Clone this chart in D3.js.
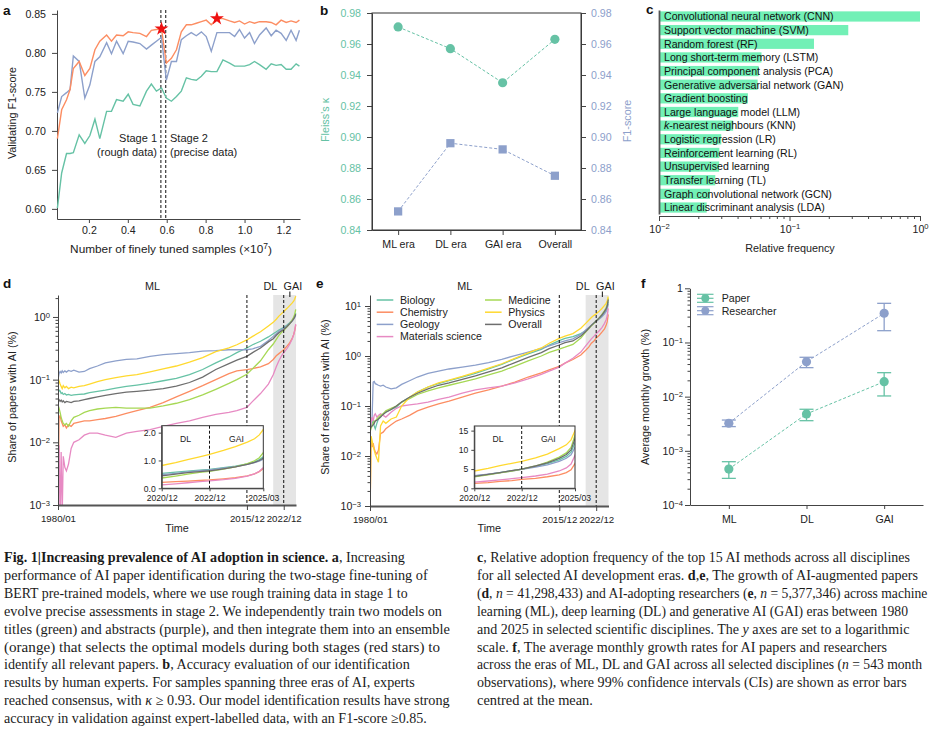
<!DOCTYPE html>
<html>
<head>
<meta charset="utf-8">
<title>Fig. 1</title>
<script src="https://cdn.jsdelivr.net/npm/d3@7/dist/d3.min.js"></script>
<style>
  html, body { margin: 0; padding: 0; background: #fff; }
  #figure svg { display: block; }
</style>
</head>
<body>
<div id="figure"></div>
<script>
// ---------- a: validating F1-score during two-stage fine-tuning (x in 10^7 samples)
const tunedSamples = [0.038, 0.060, 0.085, 0.103, 0.120, 0.150, 0.179, 0.205, 0.231, 0.256, 0.291,
  0.316, 0.342, 0.376, 0.402, 0.427, 0.462, 0.496, 0.521, 0.547, 0.573,
  0.598, 0.624, 0.650, 0.675, 0.701, 0.726, 0.752, 0.778, 0.803, 0.829, 0.858, 0.889, 0.923, 0.949,
  0.974, 1.000, 1.026, 1.051, 1.077, 1.111, 1.137, 1.162, 1.188, 1.214, 1.239, 1.265, 1.282];
const titleF1 = [0.601, 0.646, 0.671, 0.671, 0.672, 0.695, 0.684, 0.694, 0.715, 0.690, 0.725,
  0.725, 0.740, 0.738, 0.747, 0.734, 0.732, 0.751, 0.760, 0.751, 0.755,
  0.742, 0.738, 0.744, 0.751, 0.768, 0.766, 0.765, 0.770, 0.777, 0.776, 0.776, 0.791, 0.787, 0.783,
  0.783, 0.783, 0.785, 0.789, 0.785, 0.779, 0.786, 0.784, 0.785, 0.779, 0.779, 0.786, 0.783];
const abstractF1 = [0.723, 0.744, 0.749, 0.753, 0.796, 0.789, 0.742, 0.759, 0.789, 0.795, 0.813,
  0.799, 0.815, 0.799, 0.815, 0.814, 0.812, 0.805, 0.810, 0.815, 0.820,
  0.765, 0.789, 0.789, 0.817, 0.822, 0.826, 0.822, 0.827, 0.821, 0.802, 0.826, 0.826, 0.826, 0.821,
  0.830, 0.819, 0.826, 0.812, 0.823, 0.832, 0.822, 0.829, 0.825, 0.816, 0.829, 0.816, 0.829];
const ensembleF1 = [0.690, 0.727, 0.740, 0.753, 0.780, 0.789, 0.771, 0.780, 0.804, 0.815, 0.823,
  0.815, 0.823, 0.822, 0.827, 0.826, 0.825, 0.821, 0.829, 0.830, 0.831,
  0.787, 0.793, 0.804, 0.827, 0.836, 0.836, 0.838, 0.840, 0.842, 0.836, 0.844, 0.844, 0.841, 0.839,
  0.841, 0.837, 0.840, 0.838, 0.840, 0.840, 0.839, 0.836, 0.842, 0.839, 0.841, 0.839, 0.842];
const stageBreaks = [0.57, 0.595];
const optimalModels = [20, 31];   // indices of the red stars in ensembleF1
const aTicksX = [0.2, 0.4, 0.6, 0.8, 1.0, 1.2];
const aTicksY = [0.60, 0.65, 0.70, 0.75, 0.80, 0.85];

// ---------- b: expert evaluation
const evalEras = ['ML era', 'DL era', 'GAI era', 'Overall'];
const fleissKappa = [0.971, 0.957, 0.935, 0.963];
const evalF1 = [0.852, 0.896, 0.892, 0.875];
const bTicks = [0.84, 0.86, 0.88, 0.90, 0.92, 0.94, 0.96, 0.98];

// ---------- c: top 15 methods
const methods = ['Convolutional neural network (CNN)', 'Support vector machine (SVM)', 'Random forest (RF)',
  'Long short-term memory (LSTM)', 'Principal component analysis (PCA)', 'Generative adversarial network (GAN)',
  'Gradient boosting', 'Large language model (LLM)', 'k-nearest neighbours (KNN)', 'Logistic regression (LR)',
  'Reinforcement learning (RL)', 'Unsupervised learning', 'Transfer learning (TL)',
  'Graph convolutional network (GCN)', 'Linear discriminant analysis (LDA)'];
const methodFreq = [1.0, 0.282, 0.154, 0.061, 0.058, 0.057, 0.048, 0.0405, 0.037, 0.030, 0.029, 0.0289, 0.027, 0.0246, 0.0232];

// ---------- d, e: share of AI papers / researchers (%), sampled in decimal years
const timeYears = [1980.0, 1980.2, 1980.4, 1980.6, 1980.8, 1981.0, 1981.3, 1981.6, 1982.0, 1982.5,
  1983, 1984, 1985, 1986, 1987.5, 1989, 1991, 1993, 1995, 1997.5,
  2000, 2002.5, 2005, 2007.5, 2010, 2012.5, 2014, 2015.9, 2017, 2018.5,
  2020, 2020.92, 2021.5, 2022, 2022.5, 2022.92, 2023.5, 2024, 2024.5, 2024.8, 2025.0, 2025.2];
const disciplines = ['Biology', 'Chemistry', 'Geology', 'Materials science', 'Medicine', 'Physics', 'Overall'];

const papersBiology = [0.06, 0.068, 0.066, 0.060, 0.062, 0.058, 0.06, 0.057, 0.058, 0.056,
  0.057, 0.058, 0.059, 0.062, 0.065, 0.068, 0.073, 0.078, 0.082, 0.088,
  0.096, 0.105, 0.12, 0.145, 0.185, 0.23, 0.27, 0.32, 0.36, 0.41,
  0.48, 0.54, 0.58, 0.62, 0.65, 0.68, 0.74, 0.80, 0.88, 0.95, 1.03, 1.15];
const papersChemistry = [0.0008, 0.024, 0.027, 0.022, 0.02, 0.018, 0.019, 0.017, 0.019, 0.018,
  0.02, 0.021, 0.022, 0.022, 0.023, 0.024, 0.026, 0.029, 0.032, 0.036,
  0.043, 0.053, 0.065, 0.08, 0.1, 0.125, 0.138, 0.145, 0.15, 0.16,
  0.18, 0.21, 0.24, 0.26, 0.28, 0.30, 0.34, 0.38, 0.45, 0.52, 0.60, 0.74];
const papersGeology = [0.10, 0.125, 0.135, 0.128, 0.138, 0.13, 0.138, 0.132, 0.14, 0.136,
  0.142, 0.132, 0.135, 0.15, 0.165, 0.185, 0.2, 0.21, 0.215, 0.235,
  0.25, 0.26, 0.27, 0.285, 0.29, 0.30, 0.30, 0.30, 0.31, 0.34,
  0.42, 0.49, 0.54, 0.59, 0.63, 0.66, 0.72, 0.78, 0.86, 0.92, 0.98, 1.06];
const papersMaterials = [0.0005, 0.009, 0.0006, 0.007, 0.0007, 0.006, 0.004, 0.0035, 0.0045, 0.008,
  0.01, 0.011, 0.013, 0.014, 0.014, 0.013, 0.012, 0.014, 0.015, 0.016,
  0.018, 0.02, 0.022, 0.025, 0.028, 0.03, 0.032, 0.036, 0.045, 0.06,
  0.085, 0.12, 0.16, 0.20, 0.24, 0.27, 0.31, 0.36, 0.44, 0.52, 0.61, 0.77];
const papersMedicine = [0.032, 0.035, 0.03, 0.025, 0.022, 0.02, 0.019, 0.02, 0.018, 0.022,
  0.025, 0.027, 0.03, 0.032, 0.034, 0.035, 0.036, 0.035, 0.035, 0.035,
  0.038, 0.042, 0.048, 0.057, 0.07, 0.087, 0.10, 0.122, 0.15, 0.2,
  0.30, 0.37, 0.44, 0.51, 0.57, 0.61, 0.69, 0.77, 0.89, 0.99, 1.10, 1.32];
const papersPhysics = [0.105, 0.095, 0.085, 0.078, 0.072, 0.08, 0.074, 0.078, 0.072, 0.076,
  0.074, 0.078, 0.08, 0.085, 0.093, 0.10, 0.108, 0.115, 0.12, 0.133,
  0.148, 0.165, 0.19, 0.225, 0.28, 0.32, 0.36, 0.43, 0.49, 0.58,
  0.72, 0.82, 0.92, 1.03, 1.13, 1.22, 1.36, 1.50, 1.66, 1.78, 1.92, 2.15];
const papersOverall = [0.05, 0.048, 0.045, 0.047, 0.044, 0.046, 0.043, 0.045, 0.044, 0.043,
  0.045, 0.046, 0.048, 0.05, 0.053, 0.056, 0.06, 0.063, 0.065, 0.068,
  0.072, 0.079, 0.09, 0.11, 0.145, 0.18, 0.205, 0.235, 0.27, 0.32,
  0.40, 0.45, 0.51, 0.56, 0.60, 0.63, 0.70, 0.77, 0.86, 0.93, 1.00, 1.10];

const researchersBiology = [0.035, 0.04, 0.045, 0.05, 0.04, 0.035, 0.045, 0.055, 0.06, 0.07,
  0.075, 0.085, 0.095, 0.12, 0.15, 0.19, 0.24, 0.28, 0.32, 0.38,
  0.45, 0.55, 0.68, 0.88, 1.1, 1.36, 1.65, 2.03, 2.25, 2.44,
  2.8, 3.2, 3.6, 4.1, 4.6, 5.0, 5.7, 6.4, 7.4, 8.3, 9.4, 12.3];
const researchersChemistry = [0.0005, 0.02, 0.015, 0.018, 0.014, 0.012, 0.011, 0.013, 0.028, 0.03,
  0.035, 0.042, 0.05, 0.055, 0.065, 0.08, 0.095, 0.11, 0.125, 0.15,
  0.18, 0.21, 0.25, 0.3, 0.38, 0.46, 0.53, 0.62, 0.72, 0.85,
  1.05, 1.3, 1.5, 1.8, 2.0, 2.3, 2.6, 3.0, 3.5, 4.1, 4.8, 6.8];
const researchersGeology = [0.045, 0.05, 0.06, 0.3, 0.31, 0.28, 0.27, 0.26, 0.25, 0.26,
  0.24, 0.22, 0.23, 0.27, 0.32, 0.38, 0.45, 0.50, 0.55, 0.60,
  0.66, 0.74, 0.86, 1.02, 1.2, 1.42, 1.6, 1.85, 2.0, 2.2,
  2.7, 3.3, 3.7, 4.1, 4.5, 4.9, 5.5, 6.1, 7.0, 7.8, 8.7, 11.0];
const researchersMaterials = [0.03, 0.045, 0.06, 0.05, 0.065, 0.07, 0.06, 0.065, 0.07, 0.065,
  0.06, 0.075, 0.09, 0.1, 0.105, 0.11, 0.12, 0.135, 0.15, 0.18,
  0.21, 0.23, 0.25, 0.29, 0.35, 0.43, 0.5, 0.6, 0.72, 0.9,
  1.2, 1.6, 1.9, 2.2, 2.5, 2.8, 3.2, 3.7, 4.5, 5.3, 6.3, 9.0];
const researchersMedicine = [0.04, 0.035, 0.04, 0.045, 0.05, 0.05, 0.055, 0.06, 0.065, 0.07,
  0.08, 0.09, 0.1, 0.12, 0.14, 0.17, 0.2, 0.23, 0.26, 0.3,
  0.35, 0.42, 0.5, 0.63, 0.8, 1.0, 1.18, 1.38, 1.5, 1.7,
  2.3, 3.0, 3.5, 4.0, 4.5, 5.0, 5.8, 6.8, 8.1, 9.2, 10.6, 14.5];
const researchersPhysics = [0.0005, 0.025, 0.02, 0.016, 0.013, 0.011, 0.009, 0.0075, 0.04, 0.05,
  0.045, 0.055, 0.06, 0.1, 0.15, 0.19, 0.24, 0.29, 0.33, 0.39,
  0.47, 0.57, 0.7, 0.9, 1.15, 1.45, 1.8, 2.26, 2.5, 2.8,
  3.6, 4.5, 5.2, 5.9, 6.5, 7.0, 7.9, 8.9, 10.3, 11.3, 12.6, 15.5];
const researchersOverall = [0.035, 0.038, 0.04, 0.042, 0.045, 0.05, 0.052, 0.055, 0.06, 0.068,
  0.075, 0.085, 0.1, 0.12, 0.15, 0.18, 0.22, 0.26, 0.29, 0.34,
  0.4, 0.48, 0.58, 0.74, 0.94, 1.17, 1.4, 1.66, 1.85, 2.0,
  2.5, 3.1, 3.6, 4.1, 4.6, 5.0, 5.8, 6.6, 7.8, 8.8, 10.0, 13.5];

const timeTicks = ['1980/01', '2015/12', '2022/12'];   // also the starts of the ML, DL and GAI eras
const eraNames = ['ML', 'DL', 'GAI'];
const insetTicks = ['2020/12', '2022/12', '2025/03'];

// ---------- f: average monthly growth (%) with 99% CI
const growthEras = ['ML', 'DL', 'GAI'];
const paperGrowth = [4.6e-4, 4.8e-3, 0.0189];
const paperLow = [3.1e-4, 3.6e-3, 0.0103];
const paperHigh = [6.3e-4, 5.85e-3, 0.0277];
const researcherGrowth = [3.23e-3, 0.0443, 0.346];
const researcherLow = [2.8e-3, 0.0343, 0.165];
const researcherHigh = [3.7e-3, 0.0533, 0.528];

// ---------- caption
const captionLeft = [
  [['Fig. 1|Increasing prevalence of AI adoption in science. a', 'b'], [', Increasing']],
  [['performance of AI paper identification during the two-stage fine-tuning of']],
  [['BERT pre-trained models, where we use rough training data in stage 1 to']],
  [['evolve precise assessments in stage 2. We independently train two models on']],
  [['titles (green) and abstracts (purple), and then integrate them into an ensemble']],
  [['(orange) that selects the optimal models during both stages (red stars) to']],
  [['identify all relevant papers. '], ['b', 'b'], [', Accuracy evaluation of our identification']],
  [['results by human experts. For samples spanning three eras of AI, experts']],
  [['reached consensus, with '], ['\u03ba', 'i'], [' \u2265 0.93. Our model identification results have strong']],
  [['accuracy in validation against expert-labelled data, with an F1-score \u22650.85.']]
];
const captionRight = [
  [['c', 'b'], [', Relative adoption frequency of the top 15 AI methods across all disciplines']],
  [['for all selected AI development eras. '], ['d', 'b'], [','], ['e', 'b'], [', The growth of AI-augmented papers']],
  [['('], ['d', 'b'], [', '], ['n', 'i'], [' = 41,298,433) and AI-adopting researchers ('], ['e', 'b'], [', '], ['n', 'i'], [' = 5,377,346) across machine']],
  [['learning (ML), deep learning (DL) and generative AI (GAI) eras between 1980']],
  [['and 2025 in selected scientific disciplines. The '], ['y', 'i'], [' axes are set to a logarithmic']],
  [['scale. '], ['f', 'b'], [', The average monthly growth rates for AI papers and researchers']],
  [['across the eras of ML, DL and GAI across all selected disciplines ('], ['n', 'i'], [' = 543 month']],
  [['observations), where 99% confidence intervals (CIs) are shown as error bars']],
  [['centred at the mean.']]
];

const FONT = '"Liberation Sans", Arial, sans-serif';
const SERIF = '"Liberation Serif", "DejaVu Serif", serif';
const INK = '#222';
const C = {
  green: '#66c2a5', orange: '#fc8d62', purple: '#8da0cb', star: '#ee1111', bar: '#72f0b6'
};
const disciplineColors = ['#66c2a5', '#fc8d62', '#8da0cb', '#e78ac3', '#a6d854', '#ffd92f', '#6e6e6e'];

const ym = s => { const [yy, mm] = s.split('/').map(Number); return yy + (mm - 1) / 12; };

function styleAxis(g, opts = {}) {
  g.attr('font-family', FONT).attr('font-size', opts.size || 10.6);
  g.select('.domain').attr('stroke', opts.domain || '#444').attr('stroke-width', opts.domainWidth || 1);
  g.selectAll('.tick line').attr('stroke', '#444');
  g.selectAll('.tick text').attr('fill', opts.color || INK);
}

function logMajors(domain) {
  const out = [];
  for (let e = Math.ceil(Math.log10(domain[0]) - 1e-9); Math.pow(10, e) <= domain[1] * 1.0001; e++) out.push(Math.pow(10, e));
  return out;
}

function logMinors(domain) {
  const out = [];
  for (let e = Math.floor(Math.log10(domain[0])); e <= Math.ceil(Math.log10(domain[1])); e++) {
    for (let m = 2; m <= 9; m++) {
      const v = m * Math.pow(10, e);
      if (v > domain[0] && v < domain[1]) out.push(v);
    }
  }
  return out;
}

// replace tick text with 10^k
function powerLabels(axisG, plainOne) {
  axisG.selectAll('.tick text').each(function (d) {
    const e = Math.round(Math.log10(d));
    const t = d3.select(this).text(null);
    if (plainOne && e === 0) { t.text('1'); return; }
    t.append('tspan').text('10');
    t.append('tspan').attr('dy', '-0.42em').attr('font-size', '0.72em')
      .text(e < 0 ? '\u2212' + (-e) : String(e));
  });
}

class FigureOne {
  constructor() {
    this.width = 949;
    this.height = 749;
    this.svg = null;
  }

  initialize() {
    this.svg = d3.select('#figure').append('svg')
      .attr('width', this.width)
      .attr('height', this.height)
      .attr('font-family', FONT);
    this.svg.append('rect').attr('width', this.width).attr('height', this.height).attr('fill', '#fff');

    this.drawPanelA();
    this.drawPanelB();
    this.drawPanelC();
    this.drawTimePanel({
      letter: 'd', labelX: 3,
      series: [papersBiology, papersChemistry, papersGeology, papersMaterials, papersMedicine, papersPhysics, papersOverall],
      xRange: [58, 296], yRange: [505, 295], yDomain: [1e-3, 2.24], yPad: 3,
      yTitle: 'Share of papers with AI (%)', yTitleX: 15.5,
      inset: { xRange: [161.7, 263.3], yRange: [488.3, 425.7], yDomain: [0, 2.25], yTicks: [0, 1, 2] },
      legend: false
    });
    this.drawTimePanel({
      letter: 'e', labelX: 316,
      series: [researchersBiology, researchersChemistry, researchersGeology, researchersMaterials,
        researchersMedicine, researchersPhysics, researchersOverall],
      xRange: [370, 608.5], yRange: [506, 295], yDomain: [1e-3, 16.6], yPad: 4,
      yTitle: 'Share of researchers with AI (%)', yTitleX: 329,
      inset: { xRange: [474.3, 575], yRange: [488.3, 426], yDomain: [0, 16.2], yTicks: [0, 5, 10, 15] },
      legend: true
    });
    this.drawPanelF();
    this.drawCaption(captionLeft, [405, 428, 408, 442, 450, 440, 410, 415, 450, 427], 4);
    this.drawCaption(captionRight, [910, 918, 928, 908, 910, 887, 922, 907, 593], 477);
  }

  panelLabel(letter, x, y) {
    this.svg.append('text')
      .attr('x', x).attr('y', y)
      .attr('font-size', 13.5).attr('font-weight', 'bold').attr('fill', '#111')
      .text(letter);
  }

  axisTitle(g, text, x, y, rotate, color) {
    return g.append('text')
      .attr('transform', `translate(${x},${y})` + (rotate ? ' rotate(-90)' : ''))
      .attr('text-anchor', 'middle')
      .attr('font-size', 10.8)
      .attr('fill', color || INK)
      .text(text);
  }

  drawPanelA() {
    const g = this.svg.append('g');
    const x = d3.scaleLinear().domain([0.036, 1.285]).range([57, 300]);
    const y = d3.scaleLinear().domain([0.587, 0.855]).range([219, 10]);

    g.append('g').attr('transform', 'translate(0,219)')
      .call(d3.axisBottom(x).tickValues(aTicksX).tickFormat(d3.format('.1f')).tickSize(4).tickSizeOuter(0))
      .call(styleAxis);
    g.append('g').attr('transform', 'translate(57,0)')
      .call(d3.axisLeft(y).tickValues(aTicksY).tickFormat(d3.format('.2f')).tickSize(5).tickPadding(6).tickSizeOuter(0))
      .call(styleAxis);

    // stage boundary
    g.selectAll('.stage').data(stageBreaks).join('line')
      .attr('x1', d => x(d)).attr('x2', d => x(d))
      .attr('y1', 10).attr('y2', 219)
      .attr('stroke', '#111').attr('stroke-width', 1).attr('stroke-dasharray', '3,2');

    const line = d3.line().x((d, i) => x(tunedSamples[i])).y(d => y(d));
    [[titleF1, C.green], [abstractF1, C.purple], [ensembleF1, C.orange]].forEach(([vals, color]) => {
      g.append('path').datum(vals)
        .attr('d', line).attr('fill', 'none')
        .attr('stroke', color).attr('stroke-width', 1.4);
    });

    g.selectAll('.star').data(optimalModels).join('path')
      .attr('transform', i => `translate(${x(tunedSamples[i])},${y(ensembleF1[i])})`)
      .attr('d', d3.symbol(d3.symbolStar, 60))
      .attr('fill', C.star);

    const stage = g.append('g').attr('font-size', 11).attr('fill', INK);
    stage.append('text').attr('x', 157).attr('y', 142).attr('text-anchor', 'end').text('Stage 1');
    stage.append('text').attr('x', 157).attr('y', 156).attr('text-anchor', 'end').text('(rough data)');
    stage.append('text').attr('x', 170).attr('y', 142).text('Stage 2');
    stage.append('text').attr('x', 170).attr('y', 156).text('(precise data)');

    this.axisTitle(g, 'Validating F1-score', 16, 113, true);
    const t = this.axisTitle(g, 'Number of finely tuned samples (\u00d710', 171, 253, false).attr('font-size', 11.8);
    t.append('tspan').attr('dy', '-0.42em').attr('font-size', '0.72em').text('7');
    t.append('tspan').attr('dy', '0.42em').text(')');
    this.panelLabel('a', 3, 15);
  }

  drawPanelB() {
    const g = this.svg.append('g');
    const x = d3.scalePoint().domain(evalEras).range([372, 581]).padding(0.5);
    const y = d3.scaleLinear().domain([0.84, 0.98]).range([230, 13]);

    g.append('g').attr('transform', 'translate(0,230)')
      .call(d3.axisBottom(x).tickSize(5).tickPadding(5).tickSizeOuter(0))
      .call(styleAxis);
    g.append('g').attr('transform', 'translate(372,0)')
      .call(d3.axisLeft(y).tickValues(bTicks).tickFormat(d3.format('.2f')).tickSize(5).tickPadding(6).tickSizeOuter(0))
      .call(styleAxis, { color: C.green });
    g.append('g').attr('transform', 'translate(581,0)')
      .call(d3.axisRight(y).tickValues(bTicks).tickFormat(d3.format('.2f')).tickSize(5).tickPadding(5).tickSizeOuter(0))
      .call(styleAxis, { color: C.purple });
    g.append('rect').attr('x', 372).attr('y', 13).attr('width', 209).attr('height', 217)
      .attr('fill', 'none').attr('stroke', '#333');

    const line = d3.line().x((d, i) => x(evalEras[i])).y(d => y(d));
    g.append('path').datum(fleissKappa).attr('d', line)
      .attr('fill', 'none').attr('stroke', C.green).attr('stroke-dasharray', '3,2');
    g.append('path').datum(evalF1).attr('d', line)
      .attr('fill', 'none').attr('stroke', C.purple).attr('stroke-dasharray', '3,2');
    g.selectAll('.kappa').data(fleissKappa).join('circle')
      .attr('cx', (d, i) => x(evalEras[i])).attr('cy', d => y(d)).attr('r', 4.6)
      .attr('fill', C.green);
    g.selectAll('.f1').data(evalF1).join('path')
      .attr('transform', (d, i) => `translate(${x(evalEras[i])},${y(d)})`)
      .attr('d', d3.symbol(d3.symbolSquare, 68))
      .attr('fill', C.purple);

    this.axisTitle(g, 'Fleiss\u2019s \u03ba', 329, 120, true, C.green);
    this.axisTitle(g, 'F1-score', 630.5, 121, true, C.purple);
    this.panelLabel('b', 320, 15);
  }

  drawPanelC() {
    const g = this.svg.append('g');
    const x = d3.scaleLog().domain([0.01, 1]).range([659, 920]);
    const y = d3.scaleBand().domain(methods).range([10, 214]).paddingInner(0.25).paddingOuter(0.1);

    g.selectAll('.bar').data(methodFreq).join('rect')
      .attr('x', x(0.01))
      .attr('y', (d, i) => y(methods[i]))
      .attr('width', d => x(d) - x(0.01))
      .attr('height', y.bandwidth())
      .attr('fill', C.bar);

    g.selectAll('.method').data(methods).join('text')
      .attr('x', 664)
      .attr('y', d => y(d) + y.bandwidth() / 2)
      .attr('dy', '0.36em')
      .attr('font-size', 10.6)
      .attr('fill', '#111')
      .each(function (d) {
        const t = d3.select(this);
        if (d.startsWith('k-')) {
          t.append('tspan').attr('font-style', 'italic').text('k');
          t.append('tspan').text(d.slice(1));
        } else {
          t.text(d);
        }
      });

    g.append('g').attr('transform', 'translate(0,216)')
      .call(d3.axisBottom(x).tickValues(logMajors([0.01, 1])).tickSize(5).tickPadding(4).tickSizeOuter(0))
      .call(styleAxis).call(powerLabels);
    g.append('g').attr('transform', 'translate(0,216)')
      .call(d3.axisBottom(x).tickValues(logMinors([0.01, 1])).tickSize(3).tickFormat(''))
      .call(styleAxis).call(a => a.select('.domain').remove());
    g.append('g').attr('transform', 'translate(659,0)')
      .call(d3.axisLeft(y).tickSize(0).tickFormat('').tickSizeOuter(0))
      .call(styleAxis, { domain: '#555', domainWidth: 1.8 });

    this.axisTitle(g, 'Relative frequency', 790, 252, false);
    this.panelLabel('c', 646, 14);
  }

  drawTimePanel(cfg) {
    const g = this.svg.append('g');
    const [x0, x1] = cfg.xRange;
    const [yBottom, yTop] = cfg.yRange;
    const x = d3.scaleLinear().domain([1980, 2025.25]).range(cfg.xRange);
    const y = d3.scaleLog().domain(cfg.yDomain).range(cfg.yRange);
    const eraX = timeTicks.map(t => x(ym(t)));

    // grey window enlarged in the inset
    const shadeX = x(ym(insetTicks[0]));
    g.append('rect')
      .attr('x', shadeX).attr('y', yTop)
      .attr('width', x1 - shadeX).attr('height', yBottom - yTop)
      .attr('fill', '#e5e5e5');

    const clipId = `clip-${cfg.letter}`;
    g.append('clipPath').attr('id', clipId).append('rect')
      .attr('x', x0).attr('y', yTop - 4)
      .attr('width', x1 - x0 + 1).attr('height', yBottom - yTop + 4);
    const line = d3.line().x((d, i) => x(timeYears[i])).y(d => y(d));
    g.append('g').attr('clip-path', `url(#${clipId})`)
      .selectAll('path').data(cfg.series).join('path')
      .attr('d', line)
      .attr('fill', 'none')
      .attr('stroke', (d, i) => disciplineColors[i])
      .attr('stroke-width', 1.3);

    // era boundaries and names
    g.selectAll('.era').data(eraX.slice(1)).join('line')
      .attr('x1', d => d).attr('x2', d => d)
      .attr('y1', yTop).attr('y2', yBottom)
      .attr('stroke', '#111').attr('stroke-dasharray', '3,2');
    const gaiMid = (eraX[2] + x1) / 2;
    const eraLabelX = [(eraX[0] + eraX[1]) / 2, (eraX[1] + eraX[2]) / 2 + 5, gaiMid + 3];
    g.selectAll('.era-name').data(eraNames).join('text')
      .attr('x', (d, i) => eraLabelX[i]).attr('y', 290)
      .attr('text-anchor', 'middle').attr('font-size', 10.8).attr('fill', INK)
      .text(d => d);
    g.append('line')
      .attr('x1', gaiMid).attr('x2', gaiMid).attr('y1', 291.5).attr('y2', 297)
      .attr('stroke', '#111');

    // axes
    g.append('g').attr('transform', `translate(0,${yBottom})`)
      .call(d3.axisBottom(x).tickValues(timeTicks.map(ym)).tickFormat((d, i) => timeTicks[i])
        .tickSize(5).tickPadding(5).tickSizeOuter(0))
      .call(styleAxis, { domain: '#555', domainWidth: 2, size: 9.7 });
    g.append('g').attr('transform', `translate(${x0},0)`)
      .call(d3.axisLeft(y).tickValues(logMajors(cfg.yDomain)).tickSize(5).tickPadding(cfg.yPad).tickSizeOuter(0))
      .call(styleAxis).call(powerLabels);
    g.append('g').attr('transform', `translate(${x0},0)`)
      .call(d3.axisLeft(y).tickValues(logMinors(cfg.yDomain)).tickSize(2.5).tickFormat(''))
      .call(styleAxis).call(a => a.select('.domain').remove());

    this.axisTitle(g, cfg.yTitle, cfg.yTitleX, 397, true);
    this.axisTitle(g, 'Time', (x0 + x1) / 2, 532, false);

    // inset: linear scale over the last years
    const ins = cfg.inset;
    const [ix0, ix1] = ins.xRange;
    const [iyB, iyT] = ins.yRange;
    const ix = d3.scaleLinear().domain([ym(insetTicks[0]), ym(insetTicks[2])]).range(ins.xRange);
    const iy = d3.scaleLinear().domain(ins.yDomain).range(ins.yRange);
    const ig = g.append('g');
    ig.append('rect').attr('x', ix0).attr('y', iyT).attr('width', ix1 - ix0).attr('height', iyB - iyT)
      .attr('fill', '#fff');
    const insetClip = `clip-inset-${cfg.letter}`;
    ig.append('clipPath').attr('id', insetClip).append('rect')
      .attr('x', ix0).attr('y', iyT).attr('width', ix1 - ix0).attr('height', iyB - iyT);
    const iline = d3.line().x((d, i) => ix(timeYears[i])).y(d => iy(d));
    ig.append('g').attr('clip-path', `url(#${insetClip})`)
      .selectAll('path').data(cfg.series).join('path')
      .attr('d', iline)
      .attr('fill', 'none')
      .attr('stroke', (d, i) => disciplineColors[i])
      .attr('stroke-width', 1.3);
    const gaiStart = ix(ym(timeTicks[2]));
    ig.append('line')
      .attr('x1', gaiStart).attr('x2', gaiStart).attr('y1', iyT).attr('y2', iyB)
      .attr('stroke', '#111').attr('stroke-dasharray', '3,2');
    ig.append('rect').attr('x', ix0).attr('y', iyT).attr('width', ix1 - ix0).attr('height', iyB - iyT)
      .attr('fill', 'none').attr('stroke', '#333');
    [['DL', (ix0 + gaiStart) / 2], ['GAI', (gaiStart + ix1) / 2]].forEach(([name, cx]) => {
      ig.append('text').attr('x', cx).attr('y', iyT + 16)
        .attr('text-anchor', 'middle').attr('font-size', 8.6).attr('fill', INK).text(name);
    });
    ig.append('g').attr('transform', `translate(${ix0},0)`)
      .call(d3.axisLeft(iy).tickValues(ins.yTicks).tickSize(3).tickPadding(3).tickSizeOuter(0))
      .call(styleAxis, { size: 8.6 });
    ig.append('g').attr('transform', `translate(0,${iyB})`)
      .call(d3.axisBottom(ix).tickValues(insetTicks.map(ym)).tickFormat((d, i) => insetTicks[i])
        .tickSize(3).tickPadding(4).tickSizeOuter(0))
      .call(styleAxis, { size: 8.6 });

    if (cfg.legend) {
      const lg = g.append('g').attr('font-size', 10.6).attr('fill', INK);
      disciplines.forEach((name, k) => {
        const col = k < 4 ? 0 : 1;
        const row = k < 4 ? k : k - 4;
        const lx = col === 0 ? 376.7 : 485;
        const ly = 300 + row * 12.2;
        lg.append('line').attr('x1', lx).attr('x2', lx + 16.6).attr('y1', ly).attr('y2', ly)
          .attr('stroke', disciplineColors[k]).attr('stroke-width', 1.5);
        lg.append('text').attr('x', lx + 23.3).attr('y', ly).attr('dy', '0.35em').text(name);
      });
    }

    this.panelLabel(cfg.letter, cfg.labelX, 288);
  }

  drawPanelF() {
    const g = this.svg.append('g');
    const x = d3.scalePoint().domain(growthEras).range([690, 923]).padding(0.5);
    const y = d3.scaleLog().domain([1e-4, 1]).range([505, 288.3]);

    g.append('g').attr('transform', 'translate(0,505)')
      .call(d3.axisBottom(x).tickSize(4).tickPadding(6).tickSizeOuter(0))
      .call(styleAxis);
    g.append('g').attr('transform', 'translate(690,0)')
      .call(d3.axisLeft(y).tickValues(logMajors([1e-4, 1])).tickSize(5).tickPadding(2).tickSizeOuter(0))
      .call(styleAxis).call(a => powerLabels(a, true));
    g.append('g').attr('transform', 'translate(690,0)')
      .call(d3.axisLeft(y).tickValues(logMinors([1e-4, 1])).tickSize(2.5).tickFormat(''))
      .call(styleAxis).call(a => a.select('.domain').remove());

    const groups = [
      { name: 'Paper', mean: paperGrowth, low: paperLow, high: paperHigh, color: C.green },
      { name: 'Researcher', mean: researcherGrowth, low: researcherLow, high: researcherHigh, color: C.purple }
    ];
    const line = d3.line().x((d, i) => x(growthEras[i])).y(d => y(d));
    groups.forEach(s => {
      const sg = g.append('g');
      sg.append('path').datum(s.mean).attr('d', line)
        .attr('fill', 'none').attr('stroke', s.color).attr('stroke-dasharray', '3,2');
      growthEras.forEach((era, i) => {
        const cx = x(era);
        sg.append('line').attr('x1', cx).attr('x2', cx).attr('y1', y(s.low[i])).attr('y2', y(s.high[i]))
          .attr('stroke', s.color).attr('stroke-width', 1.3);
        [s.low[i], s.high[i]].forEach(v => {
          sg.append('line').attr('x1', cx - 7).attr('x2', cx + 7).attr('y1', y(v)).attr('y2', y(v))
            .attr('stroke', s.color).attr('stroke-width', 1.3);
        });
        sg.append('circle').attr('cx', cx).attr('cy', y(s.mean[i])).attr('r', 4.6).attr('fill', s.color);
      });
    });

    // legend
    groups.forEach((s, k) => {
      const ly = 298.3 + k * 12.4;
      const lg = g.append('g');
      [ly - 4, ly + 4].forEach(v => lg.append('line')
        .attr('x1', 697).attr('x2', 713.5).attr('y1', v).attr('y2', v)
        .attr('stroke', s.color).attr('stroke-width', 1.2));
      lg.append('line').attr('x1', 697).attr('x2', 713.5).attr('y1', ly).attr('y2', ly)
        .attr('stroke', s.color).attr('stroke-width', 1.2);
      lg.append('circle').attr('cx', 705.3).attr('cy', ly).attr('r', 4).attr('fill', s.color);
      lg.append('text').attr('x', 721.7).attr('y', ly).attr('dy', '0.36em')
        .attr('font-size', 10.6).attr('fill', INK).text(s.name);
    });

    this.axisTitle(g, 'Average monthly growth (%)', 649, 397, true);
    this.panelLabel('f', 641, 288);
  }

  // each caption line is squeezed horizontally to the width it has in the print
  drawCaption(lines, ends, x0) {
    const g = this.svg.append('g')
      .attr('font-family', SERIF).attr('font-size', 13.8).attr('fill', '#1b1b1b');
    lines.forEach((segs, i) => {
      const t = g.append('text').attr('x', 0).attr('y', 0);
      segs.forEach(([txt, style]) => {
        const s = t.append('tspan').text(txt);
        if (style === 'b') s.attr('font-weight', 'bold');
        if (style === 'i') s.attr('font-style', 'italic');
      });
      const natural = t.node().getComputedTextLength();
      const k = natural > 0 ? (ends[i] - x0) / natural : 1;
      t.attr('transform', `translate(${x0},${562 + i * 17.9}) scale(${k},1)`);
    });
  }
}

document.addEventListener('DOMContentLoaded', () => {
  const figure = new FigureOne();
  figure.initialize();
});
</script>
</body>
</html>
